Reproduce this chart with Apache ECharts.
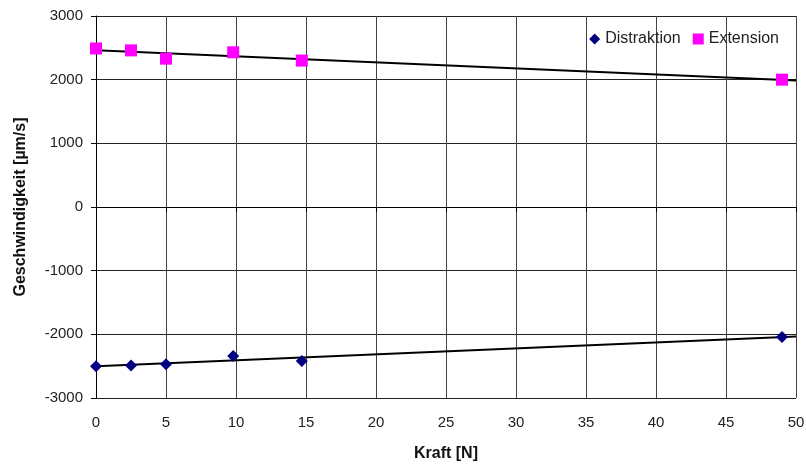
<!DOCTYPE html>
<html>
<head>
<meta charset="utf-8">
<script src="https://cdn.jsdelivr.net/npm/echarts@6/dist/echarts.min.js"></script>
<style>
  html, body { margin: 0; padding: 0; background: #fff; }
  #main { width: 806px; height: 464px; }
</style>
</head>
<body>
<div id="main"></div>
<script>
// Messwerte
const kraft = [0, 2.5, 5, 9.8, 14.7, 49];
const distraktion = [-2500, -2490, -2470, -2340, -2420, -2040];
const extension = [2490, 2460, 2330, 2430, 2300, 2000];

// lineare Trendlinie (wie Excel)
function trend(xs, ys) {
  const n = xs.length;
  const mx = xs.reduce((a, b) => a + b, 0) / n;
  const my = ys.reduce((a, b) => a + b, 0) / n;
  let sxy = 0, sxx = 0;
  for (let i = 0; i < n; i++) {
    sxy += (xs[i] - mx) * (ys[i] - my);
    sxx += (xs[i] - mx) * (xs[i] - mx);
  }
  const k = sxy / sxx;
  const d = my - k * mx;
  return [[0, d], [50, k * 50 + d]];
}

var chartDom = document.getElementById("main");
var myChart = echarts.init(chartDom);
var option;

const font = "Liberation Sans, Arial, sans-serif";

option = {
  animation: false,
  textStyle: { fontFamily: font },
  grid: { left: 96, right: 10, top: 16, bottom: 66, containLabel: false, outerBoundsMode: "none" },
  legend: {
    right: 22,
    top: 26,
    itemWidth: 11,
    itemHeight: 11,
    itemGap: 12,
    textStyle: { fontSize: 16, color: "#222", fontFamily: font },
    data: [
      { name: "Distraktion", icon: "diamond", itemStyle: { opacity: 1 } },
      { name: "Extension", icon: "rect", itemStyle: { opacity: 1 } },
    ],
  },
  xAxis: {
    type: "value",
    min: 0,
    max: 50,
    interval: 5,
    name: "Kraft [N]",
    nameLocation: "middle",
    nameGap: 48,
    nameTextStyle: { fontSize: 16, fontWeight: "bold", color: "#111" },
    axisLine: { lineStyle: { color: "#000" } },
    axisTick: { show: true, length: 5, lineStyle: { color: "#000" } },
    axisLabel: { fontSize: 15, color: "#222", margin: 17 },
    splitLine: { show: true, lineStyle: { color: "#444", width: 1 } },
  },
  yAxis: {
    type: "value",
    min: -3000,
    max: 3000,
    interval: 1000,
    name: "Geschwindigkeit [µm/s]",
    nameLocation: "middle",
    nameGap: 67,
    nameTextStyle: { fontSize: 16, fontWeight: "bold", color: "#111" },
    axisLine: { show: true, lineStyle: { color: "#000" } },
    axisTick: { show: true, length: 5, lineStyle: { color: "#000" } },
    axisLabel: { fontSize: 15, color: "#222", margin: 13, formatter: (v) => String(v) },
    splitLine: { show: true, lineStyle: { color: "#222", width: 1 } },
  },
  series: [
    {
      name: "Distraktion",
      type: "scatter",
      symbol: "diamond",
      symbolSize: 12,
      itemStyle: { color: "#000080", opacity: 1 },
      data: kraft.map((x, i) => [x, distraktion[i]]),
      z: 3,
    },
    {
      name: "Extension",
      type: "scatter",
      symbol: "rect",
      symbolSize: 12,
      itemStyle: { color: "#FF00FF", opacity: 1 },
      data: kraft.map((x, i) => [x, extension[i]]),
      z: 3,
    },
    {
      name: "Trend Distraktion",
      type: "line",
      showSymbol: false,
      lineStyle: { color: "#000", width: 2 },
      data: trend(kraft, distraktion),
      z: 2,
    },
    {
      name: "Trend Extension",
      type: "line",
      showSymbol: false,
      lineStyle: { color: "#000", width: 2 },
      data: trend(kraft, extension),
      z: 2,
    },
  ],
};

option && myChart.setOption(option);
</script>
</body>
</html>
